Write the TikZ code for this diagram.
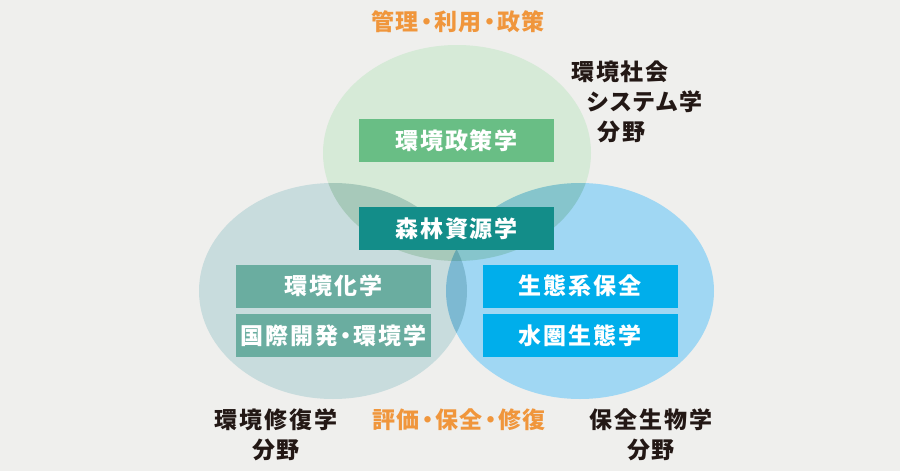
\documentclass[tikz,border=0pt]{standalone}
\usepackage{fontspec}
\usepackage{xcolor}
\usepackage{tikz}
\usetikzlibrary{positioning}
\newfontfamily\jpfont{Noto Sans CJK JP}[RawFeature=+palt, LetterSpace=8]
\definecolor{cBG}{HTML}{EFEFED}
\definecolor{cMGT}{HTML}{D6EAD7}
\definecolor{cREP}{HTML}{C8DCDD}
\definecolor{cBIO}{HTML}{A0D7F3}
\definecolor{cPOL}{HTML}{69BE85}
\definecolor{cFOR}{HTML}{138D89}
\definecolor{cCHEM}{HTML}{6AADA0}
\definecolor{cECO}{HTML}{00AEEB}
\definecolor{cORG}{HTML}{F0963C}
\definecolor{cINK}{HTML}{231815}
\tikzset{
  field/.style={inner sep=0pt, minimum width=195pt, minimum height=43pt,
    text=white, font=\jpfont\bfseries\fontsize{23pt}{30pt}\selectfont},
  area/.style={inner sep=0pt, text=cINK, align=center,
    font=\jpfont\bfseries\fontsize{23pt}{30pt}\selectfont},
  theme/.style={area, text=cORG}
}
\begin{document}
\begin{tikzpicture}[x=1pt, y=-1pt]
  \fill[cBG] (0,0) rectangle (900,471);
  \useasboundingbox (0,0) rectangle (900,471);

  % Three overlapping areas
  \begin{scope}[blend group=multiply]
    \fill[cMGT] (457,153) ellipse (134 and 108);
    \fill[cREP] (333,291) ellipse (134 and 108);
    \fill[cBIO] (580,291) ellipse (134 and 108);
  \end{scope}

  % Study fields
  \node[field, fill=cPOL] (policy) at (456.5,140.5) {環境政策学};
  \node[field, fill=cFOR] (forest) at (456.5,228.5) {森林資源学};
  \node[field, fill=cCHEM] (chem) at (333.5,286) {環境化学};
  \node[field, fill=cCHEM] (devel) at (333.5,335.5) {国際開発・環境学};
  \node[field, fill=cECO] (ecocons) at (580,286) {生態系保全};
  \node[field, fill=cECO] (aqua) at (580,335.5) {水圏生態学};

  % Themes
  \node[theme] (mgmt) at (458,22) {管理・利用・政策};
  \node[theme] (restore) at (459,420) {評価・保全・修復};

  % Area names
  \node[area, align=left, anchor=north west] (sys) at (571,61)
    {環境社会\\\hspace*{16pt}システム学\\\hspace*{26pt}分野};
  \node[area] (envrep) at (276,435) {環境修復学\\分野};
  \node[area] (biocons) at (651,435) {保全生物学\\分野};
\end{tikzpicture}
\end{document}
